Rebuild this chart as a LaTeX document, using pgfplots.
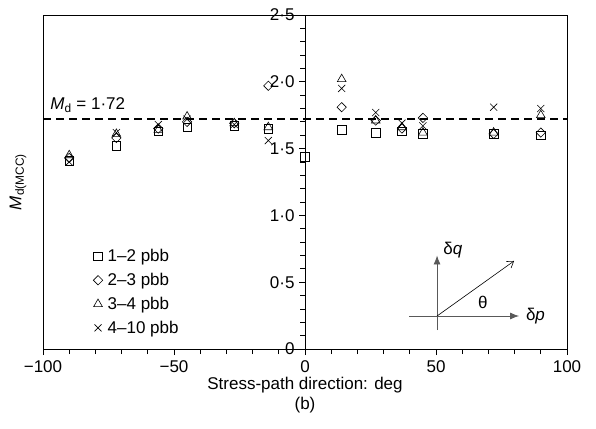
\documentclass[border=0pt]{standalone}
\usepackage{pgfplots}
\pgfplotsset{compat=1.18}
\usepackage{fontspec}
\setmainfont{Liberation Sans}
\usetikzlibrary{arrows.meta}

\begin{document}
\begin{tikzpicture}[font=\fontsize{17}{20}\selectfont]
% frame, bottom x axis and data
\begin{axis}[
  name=main,
  scale only axis, width=524pt, height=334pt,
  xmin=-100, xmax=100, ymin=0, ymax=2.5,
  axis line style={line width=0.9pt},
  xtick={-100,-50,0,50,100},
  xticklabels={−100,−50,0,50,100},
  minor x tick num=4,
  xtick pos=left, ytick=\empty,
  tick align=outside,
  major tick length=6pt, minor tick length=5pt,
  tick style={line width=0.8pt, black},
  xticklabel style={yshift=-2pt},
  xlabel={Stress-path direction: deg\\(b)},
  xlabel style={align=center, yshift=2pt},
  clip=false,
  legend style={at={(rel axis cs:0.09,0.03)}, anchor=south west,
    draw=none, fill=none, row sep=6pt,
    legend cell align=left},
  every axis plot/.append style={only marks, black, line width=0.6pt},
]
\addplot[mark=square, mark size=4.3pt] coordinates {
  (-90,1.41) (-72,1.52) (-56,1.63) (-45,1.66) (-27,1.67) (-14,1.65) (0,1.44)
  (14,1.64) (27,1.62) (37,1.63) (45,1.61) (72,1.61) (90,1.60)};
\addlegendentry{\hspace{3pt}1–2 pbb}
\addplot[mark=square, mark size=3.3pt, mark options={rotate=45}] coordinates {
  (-90,1.43) (-72,1.58) (-56,1.65) (-45,1.70) (-27,1.69) (-14,1.97)
  (14,1.81) (27,1.71) (37,1.65) (45,1.73) (72,1.61) (90,1.62)};
\addlegendentry{\hspace{3pt}2–3 pbb}
\addplot[mark=triangle, mark size=5pt] coordinates {
  (-90,1.45) (-72,1.61) (-56,1.64) (-45,1.74) (-27,1.69) (-14,1.66)
  (14,2.02) (27,1.71) (37,1.66) (45,1.62) (72,1.62) (90,1.75)};
\addlegendentry{\hspace{3pt}3–4 pbb}
\addplot[mark=x, mark size=5pt] coordinates {
  (-90,1.40) (-72,1.62) (-56,1.68) (-45,1.72) (-27,1.68) (-14,1.56)
  (14,1.95) (27,1.77) (37,1.69) (45,1.67) (72,1.81) (90,1.80)};
\addlegendentry{\hspace{3pt}4–10 pbb}
% reference level
\draw[black, line width=1.6pt, dash pattern=on 8pt off 5pt]
  (axis cs:-100,1.72) -- (axis cs:100,1.72);
\node[anchor=base west] at (axis cs:-98.5,1.79) {\textit{M}\textsubscript{d} = 1·72};
% stress-path sketch
\draw[gray!70!black, line width=0.8pt, -{Latex[length=9pt,width=7pt]}]
  (axis cs:39.7,0.247) -- (axis cs:81.7,0.247);
\draw[gray!70!black, line width=0.8pt, -{Latex[length=9pt,width=7pt]}]
  (axis cs:50.4,0.142) -- (axis cs:50.4,0.70);
\draw[black, line width=0.6pt, -{Straight Barb[length=6pt,width=8pt]}]
  (axis cs:50.4,0.247) -- (axis cs:79.8,0.659);
\node at (axis cs:67.9,0.352) {θ};
\node[anchor=west] at (axis cs:83,0.247) {δ\textit{p}};
\node[anchor=west] at (axis cs:51.5,0.74) {δ\textit{q}};
\end{axis}
% central y axis
\begin{axis}[
  scale only axis, width=524pt, height=334pt,
  xmin=-100, xmax=100, ymin=0, ymax=2.5,
  axis x line=none, axis y line=center,
  axis line style={-, line width=0.9pt},
  ytick={0,0.5,1,1.5,2,2.5},
  yticklabels={0,0·5,1·0,1·5,2·0,2·5},
  minor y tick num=4,
  tick align=outside,
  major tick length=6pt, minor tick length=5pt,
  tick style={line width=0.8pt, black},
  yticklabel style={anchor=east, xshift=-1pt},
]
\end{axis}
\node[rotate=90] at ([xshift=-25pt]main.west) {\textit{M}\textsubscript{d(MCC)}};
\path (main.south west) ++(-43pt,-79pt) coordinate (bbA);
\path (main.north east) ++(29pt,15pt) coordinate (bbB);
\path[use as bounding box] (bbA) rectangle (bbB);
\end{tikzpicture}
\end{document}
